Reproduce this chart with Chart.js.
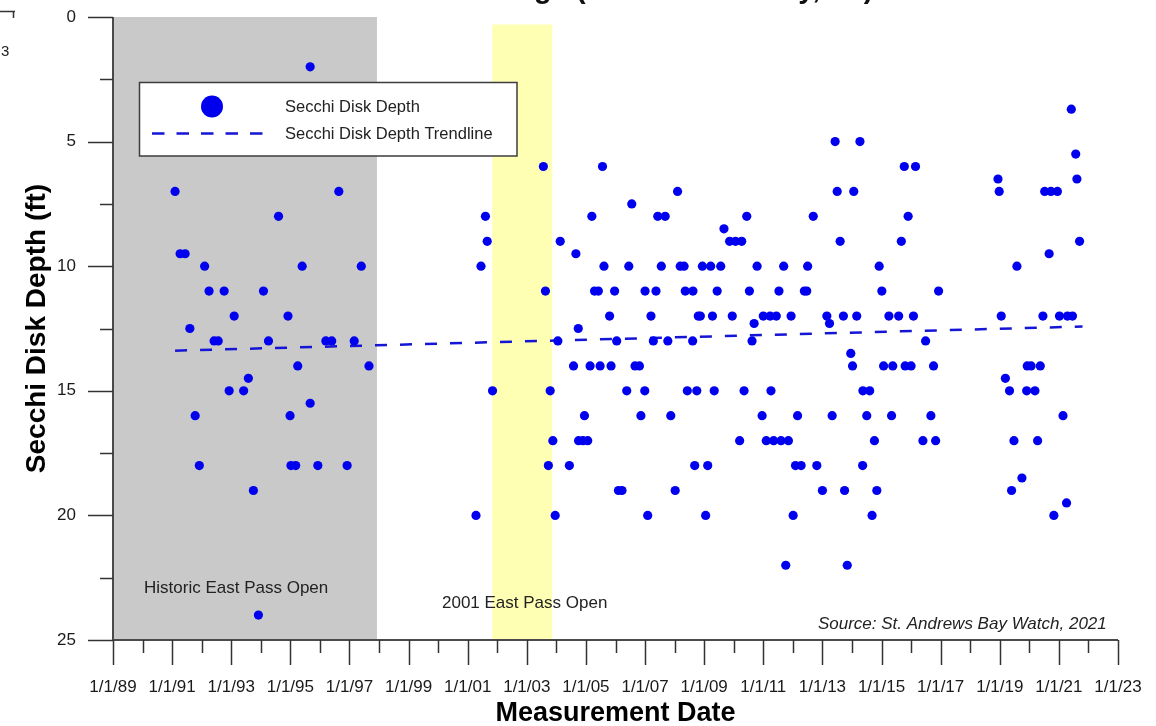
<!DOCTYPE html>
<html>
<head>
<meta charset="utf-8">
<title>Secchi Disk Depth</title>
<script src="https://cdn.jsdelivr.net/npm/chart.js@4/dist/chart.umd.min.js"></script>
<style>
  html, body { margin: 0; padding: 0; background: #ffffff; }
  #wrap { width: 1156px; height: 726px; position: relative; }
</style>
</head>
<body>
<div id="wrap"><canvas id="chart" width="1156" height="726"></canvas></div>
<script>
// Secchi disk readings: [decimal year, depth in ft]
const readings1991to1997 = [
  [1991.10, 7], [1991.27, 9.5], [1991.44, 9.5], [1991.60, 12.5], [1991.78, 16], [1991.92, 18],
  [1992.10, 10], [1992.25, 11], [1992.42, 13], [1992.56, 13], [1992.76, 11], [1992.93, 15],
  [1993.10, 12], [1993.42, 15], [1993.58, 14.5], [1993.75, 19], [1993.92, 24],
  [1994.09, 11], [1994.26, 13], [1994.60, 8], [1994.92, 12], [1994.99, 16],
  [1995.02, 18], [1995.18, 18], [1995.25, 14], [1995.40, 10], [1995.67, 2], [1995.67, 15.5], [1995.93, 18],
  [1996.20, 13], [1996.40, 13], [1996.64, 7], [1996.92, 18],
  [1997.16, 13], [1997.40, 10], [1997.66, 14]
];

const readings2001to2008 = [
  [2001.28, 20], [2001.45, 10], [2001.60, 8], [2001.66, 9], [2001.84, 15],
  [2003.56, 6], [2003.63, 11], [2003.73, 18], [2003.79, 15], [2003.88, 17], [2003.96, 20],
  [2004.05, 13], [2004.13, 9], [2004.44, 18], [2004.58, 14], [2004.66, 9.5], [2004.74, 12.5],
  [2004.75, 17], [2004.90, 17], [2004.95, 16],
  [2005.06, 17], [2005.14, 14], [2005.20, 8], [2005.29, 11], [2005.42, 11], [2005.48, 14],
  [2005.56, 6], [2005.61, 10], [2005.80, 12], [2005.85, 14], [2005.97, 11],
  [2006.04, 13], [2006.10, 19], [2006.22, 19], [2006.38, 15], [2006.45, 10], [2006.55, 7.5],
  [2006.66, 14], [2006.81, 14], [2006.86, 16], [2006.99, 15],
  [2007.00, 11], [2007.09, 20], [2007.20, 12], [2007.28, 13], [2007.37, 11], [2007.43, 8],
  [2007.55, 10], [2007.68, 8], [2007.77, 13], [2007.87, 16],
  [2008.02, 19], [2008.10, 7], [2008.19, 10], [2008.32, 10], [2008.36, 11], [2008.43, 15],
  [2008.61, 13], [2008.62, 11], [2008.68, 18], [2008.75, 15], [2008.80, 12], [2008.87, 12], [2008.94, 10]
];

const readings2009to2016 = [
  [2009.05, 20], [2009.12, 18], [2009.22, 10], [2009.28, 12], [2009.34, 15], [2009.44, 11],
  [2009.56, 10], [2009.67, 8.5], [2009.86, 9], [2009.95, 12],
  [2010.06, 9], [2010.20, 17], [2010.27, 9], [2010.35, 15], [2010.44, 8], [2010.53, 11],
  [2010.62, 13], [2010.69, 12.3], [2010.79, 10], [2010.96, 16],
  [2011.00, 12], [2011.10, 17], [2011.23, 12], [2011.26, 15], [2011.35, 17], [2011.44, 12],
  [2011.53, 11], [2011.60, 17], [2011.69, 10], [2011.76, 22], [2011.85, 17], [2011.94, 12],
  [2012.01, 20], [2012.09, 18], [2012.16, 16], [2012.28, 18], [2012.39, 11], [2012.47, 11],
  [2012.50, 10], [2012.69, 8], [2012.81, 18],
  [2013.00, 19], [2013.15, 12], [2013.24, 12.3], [2013.33, 16], [2013.43, 5], [2013.50, 7],
  [2013.60, 9], [2013.71, 12], [2013.75, 19], [2013.84, 22], [2013.96, 13.5],
  [2014.02, 14], [2014.06, 7], [2014.16, 12], [2014.27, 5], [2014.36, 18], [2014.37, 15],
  [2014.50, 16], [2014.60, 15], [2014.68, 20], [2014.76, 17], [2014.84, 19], [2014.92, 10],
  [2015.01, 11], [2015.07, 14], [2015.25, 12], [2015.34, 16], [2015.38, 14], [2015.58, 12],
  [2015.67, 9], [2015.77, 6], [2015.80, 14], [2015.90, 8],
  [2016.00, 14], [2016.08, 12], [2016.15, 6], [2016.40, 17], [2016.49, 13], [2016.67, 16],
  [2016.76, 14], [2016.83, 17], [2016.93, 11]
];

const readings2018to2021 = [
  [2018.94, 6.5], [2018.98, 7], [2019.05, 12], [2019.19, 14.5], [2019.33, 15], [2019.40, 19],
  [2019.48, 17], [2019.58, 10], [2019.75, 18.5], [2019.91, 15], [2019.93, 14],
  [2020.06, 14], [2020.19, 15], [2020.28, 17], [2020.37, 14], [2020.46, 12], [2020.52, 7],
  [2020.67, 9.5], [2020.73, 7], [2020.83, 20], [2020.95, 7],
  [2021.02, 12], [2021.14, 16], [2021.26, 19.5], [2021.29, 12], [2021.42, 3.7], [2021.46, 12],
  [2021.57, 5.5], [2021.61, 6.5], [2021.70, 9]
];

// Linear trend endpoints: [decimal year, depth in ft]
const trendline = [[1991.10, 13.39], [2021.80, 12.42]];

// Periods when East Pass was open: [start year, end year, top depth]
const historicPassOpen = [1989.0, 1997.93, 0];
const pass2001Open = [2001.83, 2003.86, 0.3];

// Axis settings
const yearMin = 1989, yearMax = 2023;
const depthMin = 0, depthMax = 25;

const FONT = "'Liberation Sans', Arial, Helvetica, sans-serif";
const DOT_BLUE = '#0000ee';
const TREND_BLUE = '#1515d5';

const allReadings = [].concat(readings1991to1997, readings2001to2008, readings2009to2016, readings2018to2021);

const yearLabel = v => {
  if ((v - yearMin) % 2 !== 0) return '';
  return '1/1/' + String(v % 100).padStart(2, '0');
};

const framePlugin = {
  id: 'frame',
  beforeDatasetsDraw(chart) {
    const { ctx, scales: { x, y } } = chart;
    ctx.save();
    const shade = (p, color) => {
      const x0 = x.getPixelForValue(p[0]);
      const x1 = x.getPixelForValue(p[1]);
      const y0 = y.getPixelForValue(p[2]);
      const y1 = y.getPixelForValue(depthMax);
      ctx.fillStyle = color;
      ctx.fillRect(x0, y0, x1 - x0, y1 - y0);
    };
    shade(historicPassOpen, '#c9c9c9');
    shade(pass2001Open, '#ffffb4');

    ctx.fillStyle = '#222222';
    ctx.textBaseline = 'middle';
    ctx.textAlign = 'left';
    ctx.font = '17px ' + FONT;
    ctx.fillText('Historic East Pass Open', x.getPixelForValue(1990.05), y.getPixelForValue(22.94));
    ctx.fillText('2001 East Pass Open', x.getPixelForValue(2000.13), y.getPixelForValue(23.54));
    ctx.textAlign = 'right';
    ctx.font = 'italic 17px ' + FONT;
    ctx.fillText('Source: St. Andrews Bay Watch, 2021', x.getPixelForValue(2022.62), y.getPixelForValue(24.38));
    ctx.restore();
  },
  afterDatasetsDraw(chart) {
    const { ctx, scales: { x, y } } = chart;
    const left = x.left, right = x.right, top = y.top, bottom = y.bottom;
    ctx.save();
    // axis lines
    ctx.strokeStyle = '#4a4a4a';
    ctx.lineWidth = 2;
    ctx.beginPath();
    ctx.moveTo(left, top);
    ctx.lineTo(left, bottom);
    ctx.lineTo(right, bottom);
    ctx.stroke();
    // tick marks
    ctx.strokeStyle = '#333333';
    ctx.lineWidth = 1.5;
    ctx.beginPath();
    for (let yr = yearMin; yr <= yearMax; yr++) {
      const px = Math.round(x.getPixelForValue(yr)) + 0.5;
      const len = (yr - yearMin) % 2 === 0 ? 25 : 13;
      ctx.moveTo(px, bottom);
      ctx.lineTo(px, bottom + len);
    }
    for (let d = depthMin; d <= depthMax; d += 2.5) {
      const py = Math.round(y.getPixelForValue(d)) + 0.5;
      const len = d % 5 === 0 ? 25 : 13;
      ctx.moveTo(left - len, py);
      ctx.lineTo(left, py);
    }
    ctx.stroke();

    // legend box
    const ds = chart.data.datasets;
    ctx.fillStyle = '#ffffff';
    ctx.fillRect(139.5, 82.5, 377.5, 73.5);
    ctx.strokeStyle = '#3c3c3c';
    ctx.lineWidth = 1.5;
    ctx.strokeRect(139.5, 82.5, 377.5, 73.5);
    ctx.fillStyle = ds[0].backgroundColor;
    ctx.beginPath();
    ctx.arc(212, 106.5, 11, 0, Math.PI * 2);
    ctx.fill();
    ctx.strokeStyle = ds[1].borderColor;
    ctx.lineWidth = 2.5;
    ctx.setLineDash([12.5, 12]);
    ctx.beginPath();
    ctx.moveTo(152, 133.5);
    ctx.lineTo(266, 133.5);
    ctx.stroke();
    ctx.setLineDash([]);
    ctx.fillStyle = '#222222';
    ctx.font = '16.5px ' + FONT;
    ctx.textAlign = 'left';
    ctx.textBaseline = 'middle';
    ctx.fillText(ds[0].label, 285, 107);
    ctx.fillText(ds[1].label, 285, 134);
    ctx.restore();
  },
  afterDraw(chart) {
    const { ctx } = chart;
    ctx.save();
    // heading sits above the top edge of the page
    ctx.fillStyle = '#111111';
    ctx.font = 'bold 29px ' + FONT;
    ctx.textAlign = 'center';
    ctx.textBaseline = 'alphabetic';
    ctx.fillText('Secchi Disk Readings (St. Andrews Bay, FL)', 570, -2);
    // edge of the neighbouring panel
    ctx.strokeStyle = '#333333';
    ctx.lineWidth = 1.5;
    ctx.beginPath();
    ctx.moveTo(0, 11.5);
    ctx.lineTo(15, 11.5);
    ctx.moveTo(13.5, 11.5);
    ctx.lineTo(13.5, 18);
    ctx.stroke();
    ctx.fillStyle = '#222222';
    ctx.font = '15px ' + FONT;
    ctx.textAlign = 'left';
    ctx.textBaseline = 'middle';
    ctx.fillText('3', 1, 52);
    ctx.restore();
  }
};

new Chart(document.getElementById('chart'), {
  type: 'scatter',
  data: {
    datasets: [
      {
        label: 'Secchi Disk Depth',
        data: allReadings.map(r => ({ x: r[0], y: r[1] })),
        backgroundColor: DOT_BLUE,
        borderWidth: 0,
        pointRadius: 4.6,
        pointHoverRadius: 4.6,
        order: 1
      },
      {
        type: 'line',
        label: 'Secchi Disk Depth Trendline',
        data: trendline.map(r => ({ x: r[0], y: r[1] })),
        borderColor: TREND_BLUE,
        borderWidth: 2.5,
        borderDash: [12, 13],
        pointRadius: 0,
        fill: false,
        order: 2
      }
    ]
  },
  options: {
    responsive: false,
    animation: false,
    devicePixelRatio: 1,
    layout: { padding: { top: 17, right: 38, left: 0, bottom: 0 } },
    plugins: { legend: { display: false }, tooltip: { enabled: false } },
    scales: {
      x: {
        type: 'linear',
        min: yearMin,
        max: yearMax,
        afterFit(s) { s.height = 86; s.paddingLeft = 0; s.paddingRight = 0; },
        grid: { display: false, drawTicks: false },
        border: { display: false },
        ticks: {
          stepSize: 1,
          autoSkip: false,
          maxRotation: 0,
          padding: 37,
          color: '#1a1a1a',
          font: { family: FONT, size: 17 },
          callback: yearLabel
        },
        title: {
          display: true,
          text: 'Measurement Date',
          color: '#000000',
          font: { family: FONT, size: 27, weight: 'bold' },
          padding: { top: 0, bottom: -4 }
        }
      },
      y: {
        type: 'linear',
        reverse: true,
        min: depthMin,
        max: depthMax,
        afterFit(s) { s.width = 113; s.paddingTop = 0; s.paddingBottom = 0; },
        grid: { display: false, drawTicks: false },
        border: { display: false },
        ticks: {
          stepSize: 5,
          padding: 37,
          color: '#1a1a1a',
          font: { family: FONT, size: 17 }
        },
        title: {
          display: true,
          text: 'Secchi Disk Depth (ft)',
          color: '#000000',
          font: { family: FONT, size: 28, weight: 'bold' },
          padding: { top: 20, bottom: 0 }
        }
      }
    }
  },
  plugins: [framePlugin]
});
</script>
</body>
</html>
